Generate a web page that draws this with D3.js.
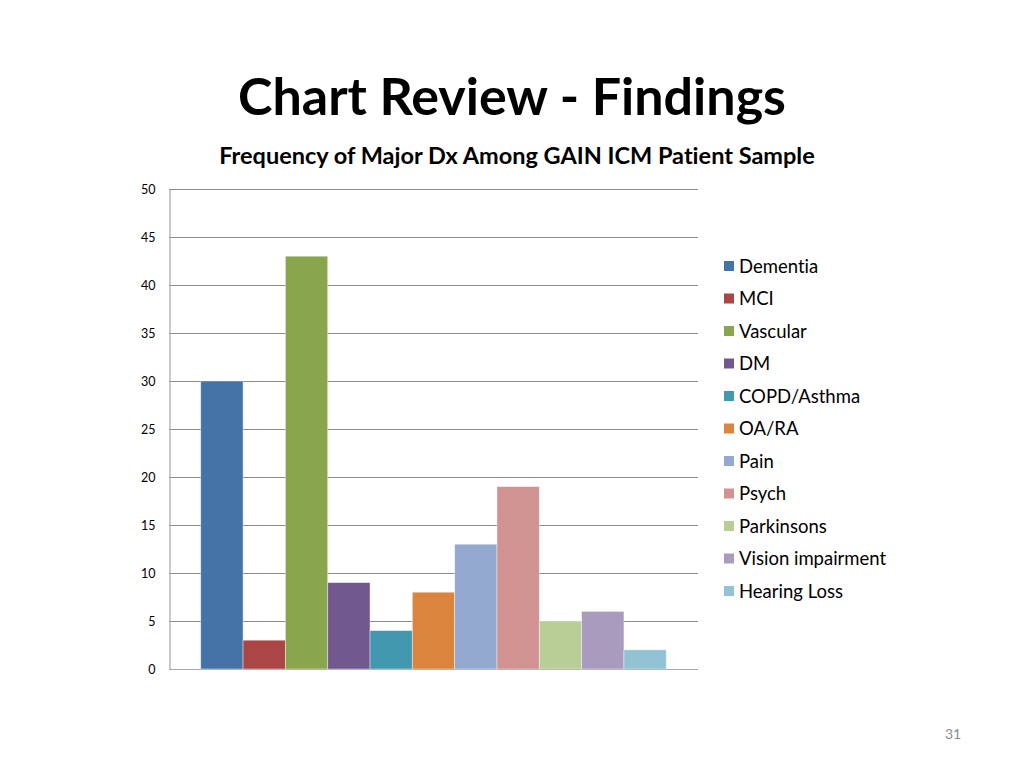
<!DOCTYPE html>
<html>
<head>
<meta charset="utf-8">
<script src="https://cdn.jsdelivr.net/npm/d3@7"></script>
<style>
  body { margin: 0; background: #fff; }
  svg { font-family: Lato, "Open Sans", sans-serif; font-variant-ligatures: none; }
</style>
</head>
<body>
<div id="chart"></div>
<script>
var categories = ["Dementia", "MCI", "Vascular", "DM", "COPD/Asthma", "OA/RA",
    "Pain", "Psych", "Parkinsons", "Vision impairment", "Hearing Loss"];
var values = [30, 3, 43, 9, 4, 8, 13, 19, 5, 6, 2];
var colors = ["#4572A7", "#AA4643", "#89A54E", "#71588F", "#4198AF", "#DB843D",
    "#93A9CF", "#D19392", "#B9CD96", "#A99BBD", "#91C3D5"];
var yTicks = [0, 5, 10, 15, 20, 25, 30, 35, 40, 45, 50];

var w = 1024;
var h = 768;
var plotLeft = 169, plotRight = 698, plotTop = 189, plotBottom = 669;

var svg = d3.select("#chart")
    .append("svg")
    .attr("width", w)
    .attr("height", h);

svg.append("text")
    .attr("x", 512)
    .attr("y", 115)
    .attr("text-anchor", "middle")
    .style("font-size", "52px")
    .style("font-weight", "bold")
    .text("Chart Review - Findings");

svg.append("text")
    .attr("x", 517)
    .attr("y", 164)
    .attr("text-anchor", "middle")
    .style("font-size", "23.5px")
    .style("font-weight", "bold")
    .text("Frequency of Major Dx Among GAIN ICM Patient Sample");

var yScale = d3.scaleLinear()
    .domain([0, 50])
    .range([plotBottom, plotTop]);

var gap = (plotRight - plotLeft) / (categories.length + 1.5) * 0.75;
var xScale = d3.scaleBand()
    .domain(categories)
    .range([plotLeft + gap, plotRight - gap])
    .padding(0);

// gridlines
svg.append("g")
    .selectAll("line")
    .data(yTicks)
    .enter()
    .append("line")
    .attr("x1", plotLeft)
    .attr("x2", plotRight)
    .attr("y1", d => Math.round(yScale(d)) + 0.5)
    .attr("y2", d => Math.round(yScale(d)) + 0.5)
    .attr("stroke", d => d === 0 ? "#a6a6a6" : "#8c8c8c")
    .attr("stroke-width", 1.2);

var yAxis = svg.append("g")
    .attr("transform", "translate(" + (plotLeft + 0.5) + ",0)")
    .call(d3.axisLeft(yScale).tickValues(yTicks).tickSize(0).tickPadding(14));
yAxis.select(".domain").attr("stroke", "#a6a6a6").attr("stroke-width", 1.2);
yAxis.selectAll("text")
    .style("font-family", "Lato, 'Open Sans', sans-serif")
    .style("font-size", "12.5px")
    .attr("fill", "#000");

svg.selectAll("rect.bar")
    .data(values)
    .enter()
    .append("rect")
    .attr("class", "bar")
    .attr("x", (d, i) => xScale(categories[i]))
    .attr("y", d => yScale(d))
    .attr("width", xScale.bandwidth())
    .attr("height", d => yScale(0) - yScale(d))
    .attr("fill", (d, i) => colors[i])
    .attr("stroke", "#ffffff")
    .attr("stroke-opacity", 0.5)
    .attr("stroke-width", 0.8);

// legend
var legend = svg.selectAll("g.legend")
    .data(categories)
    .enter()
    .append("g")
    .attr("class", "legend")
    .attr("transform", (d, i) => "translate(724," + (266 + i * 32.5) + ")");

legend.append("rect")
    .attr("x", 0)
    .attr("y", -5)
    .attr("width", 10)
    .attr("height", 10)
    .attr("fill", (d, i) => colors[i]);

legend.append("text")
    .attr("x", 15)
    .attr("y", 6.5)
    .style("font-size", "18.5px")
    .text(d => d);

svg.append("text")
    .attr("x", 953)
    .attr("y", 739)
    .attr("text-anchor", "middle")
    .style("font-size", "14px")
    .attr("fill", "#8c8c8c")
    .text("31");
</script>
</body>
</html>
